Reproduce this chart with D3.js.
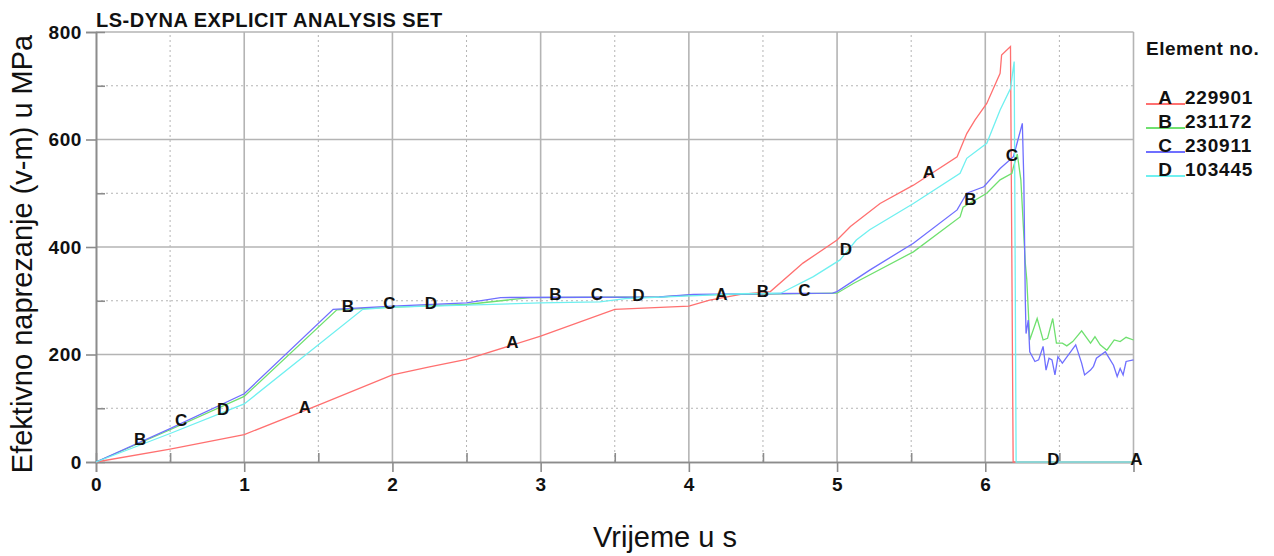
<!DOCTYPE html>
<html>
<head>
<meta charset="utf-8">
<script src="https://cdn.jsdelivr.net/npm/d3@7"></script>
<style>
  body { margin: 0; background: #fff; }
  text { font-family: "Liberation Sans", Arial, sans-serif; }
</style>
</head>
<body>
<svg id="chart" width="1274" height="556"></svg>
<script>
// time in s, stress in MPa
var seriesA = [[0,0],[0.5,24],[1,51],[1.5,106],[2,162],[2.25,177],[2.5,191],[3,234],[3.5,284],[4.0,290],
  [4.14,301],[4.35,312],[4.55,317],[4.77,370],[5.0,413],[5.09,438],[5.29,481],[5.515,515],[5.81,568],
  [5.875,611],[5.93,636],[6.01,667],[6.10,723],[6.11,757],[6.17,773],[6.188,0],[7,0]]
var seriesB = [[0,0],[0.5,60],[1,122],[1.625,283],[2,288],[2.5,293],[2.93,306],[3.8,307],[4.03,311],[5.0,314],
  [5.11,332],[5.515,391],[5.83,456],[5.85,474],[6.01,500],[6.10,525],[6.18,537],[6.19,549],[6.216,573],
  [6.24,525],[6.27,370],[6.28,339],[6.30,227],[6.35,267],[6.39,227],[6.42,230],[6.455,267],[6.48,221],
  [6.52,221],[6.55,216],[6.59,224],[6.65,244],[6.71,221],[6.74,233],[6.775,218],[6.82,208],[6.87,227],
  [6.91,224],[6.95,232],[7.0,227]]
var seriesC = [[0,0],[0.5,62],[1,127],[1.6,284],[2,290],[2.5,296],[2.73,306],[3.8,307],[4.03,312],[4.97,314],
  [5.0,317],[5.22,357],[5.515,407],[5.81,469],[5.875,500],[5.99,512],[6.10,546],[6.19,568],[6.25,630],
  [6.26,525],[6.27,301],[6.275,239],[6.29,264],[6.30,205],[6.335,187],[6.36,190],[6.39,215],[6.41,171],
  [6.43,193],[6.45,190],[6.47,162],[6.49,196],[6.52,184],[6.61,218],[6.65,184],[6.67,162],[6.71,171],
  [6.73,178],[6.75,193],[6.81,205],[6.865,180],[6.89,159],[6.91,174],[6.93,162],[6.95,187],[7.0,190]]
var seriesD = [[0,0],[0.5,53],[1,108],[1.8,284],[2,288],[2.5,292],[3,296],[3.4,298],[3.57,304],[4.01,309],
  [4.35,313],[4.62,314],[4.84,345],[5.02,376],[5.13,413],[5.22,432],[5.515,481],[5.83,537],[5.875,565],
  [6.01,593],[6.10,655],[6.17,695],[6.195,745],[6.208,0],[7,0]]

var letters = ["A", "B", "C", "D"]
var elements = ["229901", "231172", "230911", "103445"]
var colors = ["#ff7070", "#6fe06f", "#6f6fff", "#6ff0f0"]

// curve marker letters along the time axis
var markerLetters = ["B","C","D","A","B","C","D","A","B","C","D","A","B","C","D","A","B","C","D","A"]
var markerTimes = [0.297,0.574,0.857,1.41,1.70,1.98,2.26,2.81,3.10,3.38,3.66,4.22,4.50,4.78,5.06,5.62,5.90,6.18,6.46,7.02]

var xTicks = [0,1,2,3,4,5,6]
var yTicks = [0,200,400,600,800]

var allSeries = [seriesA, seriesB, seriesC, seriesD]

var svg = d3.select("#chart")

var x = d3.scaleLinear().domain([0, 7]).range([96, 1133.5])
var y = d3.scaleLinear().domain([0, 800]).range([462, 32])

var gridColor = "#b4b4b4"

// minor dotted grid
svg.append("g").selectAll("line")
  .data(d3.range(0.5, 7, 1))
  .enter().append("line")
    .attr("x1", d => x(d)).attr("x2", d => x(d))
    .attr("y1", y(0)).attr("y2", y(800))
    .attr("stroke", gridColor).attr("stroke-dasharray", "2,3")
svg.append("g").selectAll("line")
  .data(d3.range(100, 800, 200))
  .enter().append("line")
    .attr("x1", x(0)).attr("x2", x(7))
    .attr("y1", d => y(d)).attr("y2", d => y(d))
    .attr("stroke", gridColor).attr("stroke-dasharray", "2,3")

// major solid grid + frame
svg.append("g").selectAll("line")
  .data([1,2,3,4,5,6,7])
  .enter().append("line")
    .attr("x1", d => x(d)).attr("x2", d => x(d))
    .attr("y1", y(0)).attr("y2", y(800))
    .attr("stroke", gridColor).attr("stroke-width", 1.6)
svg.append("g").selectAll("line")
  .data([200,400,600,800])
  .enter().append("line")
    .attr("x1", x(0)).attr("x2", x(7))
    .attr("y1", d => y(d)).attr("y2", d => y(d))
    .attr("stroke", gridColor).attr("stroke-width", 1.6)

// axes
var xAxis = svg.append("g")
  .attr("transform", "translate(0," + y(0) + ")")
  .call(d3.axisBottom(x).tickValues(xTicks).tickSize(10).tickPadding(6).tickFormat(d3.format("d")))
var xMinor = svg.append("g")
  .attr("transform", "translate(0," + y(0) + ")")
  .call(d3.axisBottom(x).tickValues(d3.range(0.5, 7, 1)).tickSize(-9).tickFormat(""))
var yAxis = svg.append("g")
  .attr("transform", "translate(" + x(0) + ",0)")
  .call(d3.axisLeft(y).tickValues(yTicks).tickSize(10).tickPadding(4).tickFormat(d3.format("d")))
var yMinor = svg.append("g")
  .attr("transform", "translate(" + x(0) + ",0)")
  .call(d3.axisLeft(y).tickValues(d3.range(100, 800, 200)).tickSize(-9).tickFormat(""))

;[xAxis, xMinor, yAxis, yMinor].forEach(function(g) {
  g.select(".domain").attr("stroke", "#8c8c8c").attr("stroke-width", 1.6)
  g.selectAll(".tick line").attr("stroke", "#8c8c8c").attr("stroke-width", 1.6)
  g.selectAll(".tick text")
    .attr("fill", "#111")
    .style("font-size", "19px")
    .style("font-weight", "bold")
    .style("letter-spacing", "0.6px")
})

// curves
var line = d3.line().x(d => x(d[0])).y(d => y(d[1]))
svg.append("g").selectAll("path")
  .data(allSeries)
  .enter().append("path")
    .attr("d", line)
    .attr("fill", "none")
    .attr("stroke", (d, i) => colors[i])
    .attr("stroke-width", 1.3)

// marker letters sit on their curve
var bisect = d3.bisector(d => d[0]).left
function valueAt(series, t) {
  var i = bisect(series, t)
  if (i <= 0) return series[0][1]
  if (i >= series.length) return series[series.length - 1][1]
  var a = series[i - 1], b = series[i]
  return a[1] + (b[1] - a[1]) * (t - a[0]) / (b[0] - a[0])
}
svg.append("g").selectAll("text")
  .data(markerTimes)
  .enter().append("text")
    .attr("x", d => x(d))
    .attr("y", (d, i) => y(valueAt(allSeries[letters.indexOf(markerLetters[i])], d)) - 3)
    .attr("text-anchor", "middle")
    .attr("dominant-baseline", "central")
    .style("font-size", "17px")
    .style("font-weight", "bold")
    .attr("fill", "#111")
    .text((d, i) => markerLetters[i])

// title
svg.append("text")
  .attr("x", 96).attr("y", 27)
  .style("font-size", "20px").style("font-weight", "bold").style("letter-spacing", "0.5px")
  .attr("fill", "#111")
  .text("LS-DYNA EXPLICIT ANALYSIS SET")

// axis titles
svg.append("text")
  .attr("x", 665).attr("y", 547)
  .attr("text-anchor", "middle")
  .style("font-size", "29px")
  .attr("fill", "#111")
  .text("Vrijeme u s")
svg.append("text")
  .attr("transform", "translate(32,254) rotate(-90)")
  .attr("text-anchor", "middle")
  .style("font-size", "29px")
  .attr("fill", "#111")
  .text("Efektivno naprezanje (v-m) u MPa")

// legend
var legend = svg.append("g").attr("transform", "translate(1146,0)")
legend.append("text")
  .attr("x", 0).attr("y", 55)
  .style("font-size", "19px").style("font-weight", "bold").style("letter-spacing", "0.5px")
  .attr("fill", "#111")
  .text("Element no.")
var rows = legend.selectAll("g.row")
  .data(letters)
  .enter().append("g")
    .attr("class", "row")
    .attr("transform", (d, i) => "translate(0," + (103.5 + i * 24) + ")")
rows.append("line")
  .attr("x1", 0).attr("x2", 39).attr("y1", 0.5).attr("y2", 0.5)
  .attr("stroke", (d, i) => colors[i]).attr("stroke-width", 2)
rows.append("text")
  .attr("x", 19).attr("text-anchor", "middle")
  .style("font-size", "19px").style("font-weight", "bold")
  .attr("fill", "#111")
  .text(d => d)
rows.append("text")
  .attr("x", 39)
  .style("font-size", "19px").style("font-weight", "bold").style("letter-spacing", "0.8px")
  .attr("fill", "#111")
  .text((d, i) => elements[i])
</script>
</body>
</html>
